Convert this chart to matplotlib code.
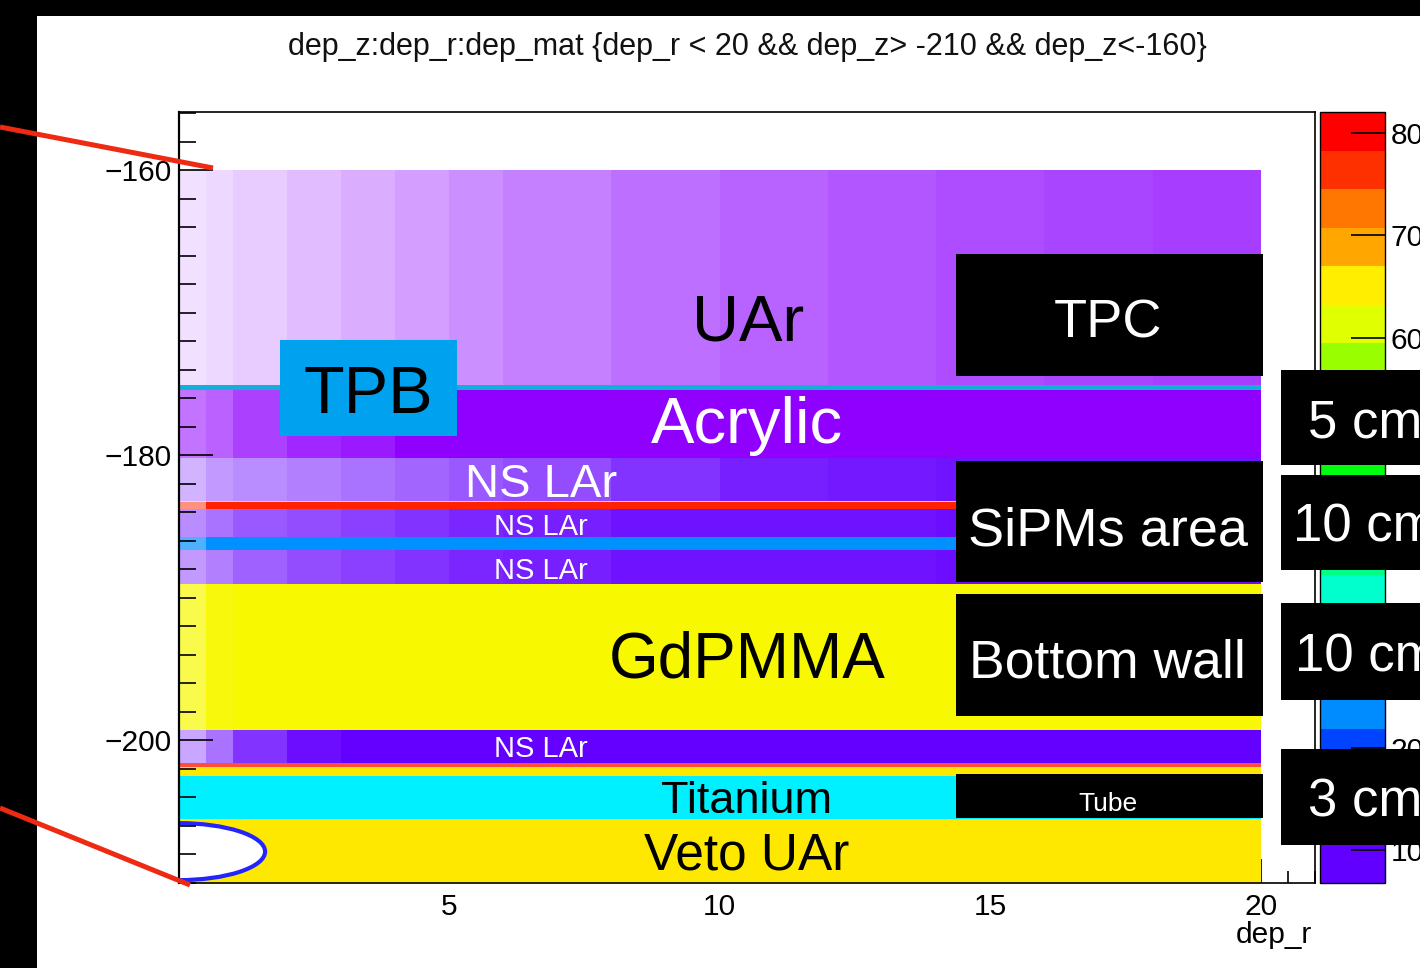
import numpy as np
import matplotlib
matplotlib.use('Agg')
import matplotlib.pyplot as plt
from matplotlib.patches import Rectangle, Ellipse
from matplotlib.lines import Line2D
from matplotlib.colors import ListedColormap, BoundaryNorm, to_rgb
from matplotlib.cm import ScalarMappable

plt.rcParams['font.family'] = ['Liberation Sans', 'DejaVu Sans']

# layer boundaries along dep_z (top -> bottom), drawn for 0 < dep_r < 20
z_edges = [-160.0, -175.1, -175.45, -180.2, -183.2, -183.3, -183.8, -185.75,
           -186.67, -189.05, -199.25, -201.6, -201.83, -202.53, -205.54, -210.0]
layer_colors = ['#8a00ff', '#12b0d8', '#9000ff', '#6400ff', '#77ee00', '#ff2200',
                '#6400ff', '#0090ff', '#6400ff', '#f8f800', '#6400ff', '#ff2200',
                '#ffe800', '#00f0ff', '#ffe800']

# dep_r bins and how densely each layer is filled with deposits (by eye)
r_bins = [0, 0.5, 1, 2, 3, 4, 5, 6, 8, 10, 12, 14, 16, 18, 20]
fill_uar = [0.12, 0.15, 0.20, 0.26, 0.32, 0.38, 0.44, 0.50, 0.56, 0.61, 0.66, 0.70, 0.73, 0.76]
fill_tpb = [1.0] * 14
fill_acrylic = [0.55, 0.62, 0.75, 0.85, 0.9, 1, 1, 1, 1, 1, 1, 1, 1, 1]
fill_nslar1 = [0.30, 0.40, 0.45, 0.50, 0.55, 0.60, 0.65, 0.70, 0.80, 0.88, 0.90, 0.92, 0.92, 0.92]
fill_green = [0.4] + [0.6] * 13
fill_red1 = [0.5] + [1.0] * 13
fill_nslar2 = [0.45, 0.55, 0.65, 0.70, 0.75, 0.80, 0.85, 0.88, 0.93, 0.93, 0.93, 0.95, 0.95, 0.95]
fill_blue = [0.7] + [1.0] * 13
fill_nslar3 = [0.40, 0.50, 0.62, 0.70, 0.75, 0.80, 0.85, 0.88, 0.93, 0.93, 0.93, 0.95, 0.95, 0.95]
fill_gdpmma = [0.7, 0.95] + [1.0] * 12
fill_nslar4 = [0.35, 0.55, 0.80, 0.95] + [1.0] * 10
fill_red2 = [0.8] * 14
fill_gap = [1.0] * 14
fill_ti = [1.0] * 14
fill_veto = [1.0] * 14
layer_fill = [fill_uar, fill_tpb, fill_acrylic, fill_nslar1, fill_green, fill_red1,
              fill_nslar2, fill_blue, fill_nslar3, fill_gdpmma, fill_nslar4, fill_red2,
              fill_gap, fill_ti, fill_veto]

# palette (dep_mat) levels
cbar_min, cbar_max = 6.78, 82.05
palette = ['#6200ff', '#3300ff', '#0014ff', '#0044ff', '#008bff', '#00bbff', '#00fffb',
           '#00ffcc', '#00ff85', '#00ff55', '#00ff0e', '#22ff00', '#69ff00', '#99ff00',
           '#e0ff00', '#ffee00', '#ffa700', '#ff7700', '#ff3000', '#ff0000']
cbar_ticks = [10, 20, 30, 40, 50, 60, 70, 80]

fig = plt.figure(figsize=(14.2, 9.68), dpi=100, facecolor='black')
fig.add_artist(Rectangle((37/1420, 0), 1, 1 - 16/968, transform=fig.transFigure,
                         facecolor='white', edgecolor='none', zorder=-5))

ax = fig.add_axes([178.5/1420, 1 - 883/968, (1315 - 178.5)/1420, 771/968])
ax.set_xlim(0, 21)
ax.set_ylim(-210, -155.93)

white = np.array([1.0, 1.0, 1.0])
widths = np.diff(r_bins)
for i, col in enumerate(layer_colors):
    top, bot = z_edges[i], z_edges[i + 1]
    c = np.array(to_rgb(col))
    cols = [f * c + (1 - f) * white for f in layer_fill[i]]
    ax.bar(r_bins[:-1], top - bot, width=widths, bottom=bot, align='edge',
           color=cols, linewidth=0, antialiased=False, zorder=1)

ax.add_patch(Ellipse((0, -207.8), 3.2, 4.0, facecolor='white', edgecolor='#2424ff',
                     lw=3, zorder=1.5))

# ticks ROOT-like
ax.set_xticks([5, 10, 15, 20])
ax.set_xticks(np.arange(0, 21.01, 0.5), minor=True)
ax.set_yticks([-200, -180, -160])
ax.set_yticks(np.arange(-210, -155, 2), minor=True)
ax.tick_params(axis='both', which='both', direction='in', top=False, right=False,
               labelsize=21.5, width=1.2, color='black')
ax.tick_params(axis='y', which='major', length=24.5, pad=5)
ax.tick_params(axis='y', which='minor', length=12)
ax.tick_params(axis='x', which='major', length=17, pad=7)
ax.tick_params(axis='x', which='minor', length=8.6)
ax.xaxis.set_zorder(0.5)
for s in ax.spines.values():
    s.set_linewidth(1.2)
ax.spines['left'].set_linewidth(1.6)

# annotation boxes
boxes_r0 = [14.37, 14.37, 14.37, 14.37]
boxes_z0 = [-174.46, -188.91, -198.32, -205.47]
boxes_z1 = [-165.89, -180.42, -189.75, -202.39]
for z0, z1, r0 in zip(boxes_z0, boxes_z1, boxes_r0):
    ax.add_patch(Rectangle((r0, z0), 20.04 - r0, z1 - z0, facecolor='black',
                           edgecolor='none', zorder=3))
ax.add_patch(Rectangle((1.875, -178.67), 5.146 - 1.875, 178.67 - 171.93,
                       facecolor='#00a2f0', edgecolor='none', zorder=3))

labels = [('UAr', 10.52, -170.3, 47, 'black'),
          ('TPC', 17.17, -170.35, 39, 'white'),
          ('TPB', 3.5, -175.37, 48, 'black'),
          ('Acrylic', 10.5, -177.5, 47, 'white'),
          ('NS LAr', 6.7, -181.75, 34, 'white'),
          ('NS LAr', 6.7, -184.84, 21, 'white'),
          ('NS LAr', 6.7, -187.93, 21, 'white'),
          ('SiPMs area', 17.17, -184.94, 39, 'white'),
          ('GdPMMA', 10.5, -193.93, 46, 'black'),
          ('Bottom wall', 17.17, -194.2, 38.5, 'white'),
          ('NS LAr', 6.7, -200.42, 21, 'white'),
          ('Titanium', 10.5, -204.0, 32.5, 'black'),
          ('Tube', 17.17, -204.25, 19, 'white'),
          ('Veto UAr', 10.5, -207.72, 37, 'black')]
for txt, r, z, fs, col in labels:
    ax.text(r, z, txt, ha='center', va='center_baseline', fontsize=fs, color=col, zorder=4)

# palette
cax = fig.add_axes([1320/1420, 1 - 883/968, 65/1420, 771/968])
levels = np.linspace(cbar_min, cbar_max, len(palette) + 1)
sm = ScalarMappable(norm=BoundaryNorm(levels, len(palette)), cmap=ListedColormap(palette))
cb = fig.colorbar(sm, cax=cax, ticks=cbar_ticks)
cb.outline.set_linewidth(1.0)
cax.minorticks_off()
cax.tick_params(direction='in', length=24.5, width=1.2, labelsize=21.5, pad=4)

fig.text(747/1420, 1 - 47/968, 'dep_z:dep_r:dep_mat {dep_r < 20 && dep_z> -210 && dep_z<-160}',
         ha='center', va='center', fontsize=22, color='#111111')
fig.text(1312/1420, 1 - 935/968, 'dep_r', ha='right', va='center', fontsize=21.5)

# side boxes
side_y0 = [465, 570, 700, 845]
side_y1 = [370, 475, 603, 749]
side_txt = ['5 cm', '10 cm', '10 cm', '3 cm']
side_x = [1308, 1293, 1295, 1308]
for y0, y1, t, xs in zip(side_y0, side_y1, side_txt, side_x):
    fig.add_artist(Rectangle((1281/1420, 1 - y0/968), 0.2, (y0 - y1)/968,
                             transform=fig.transFigure, facecolor='black',
                             edgecolor='none', zorder=5))
    fig.text(xs/1420, 1 - (y0 + y1)/2/968, t, ha='left', va='center_baseline',
             fontsize=38, color='white', zorder=6)

# red pointer lines
fig.add_artist(Line2D([0, 213/1420], [1 - 127/968, 1 - 168/968], transform=fig.transFigure,
                      color='#ee2a12', lw=3.6, zorder=7, solid_capstyle='butt'))
fig.add_artist(Line2D([0, 190/1420], [1 - 808/968, 1 - 885/968], transform=fig.transFigure,
                      color='#ee2a12', lw=3.6, zorder=7, solid_capstyle='butt'))

fig.savefig('out.png', dpi=100, facecolor='black')
